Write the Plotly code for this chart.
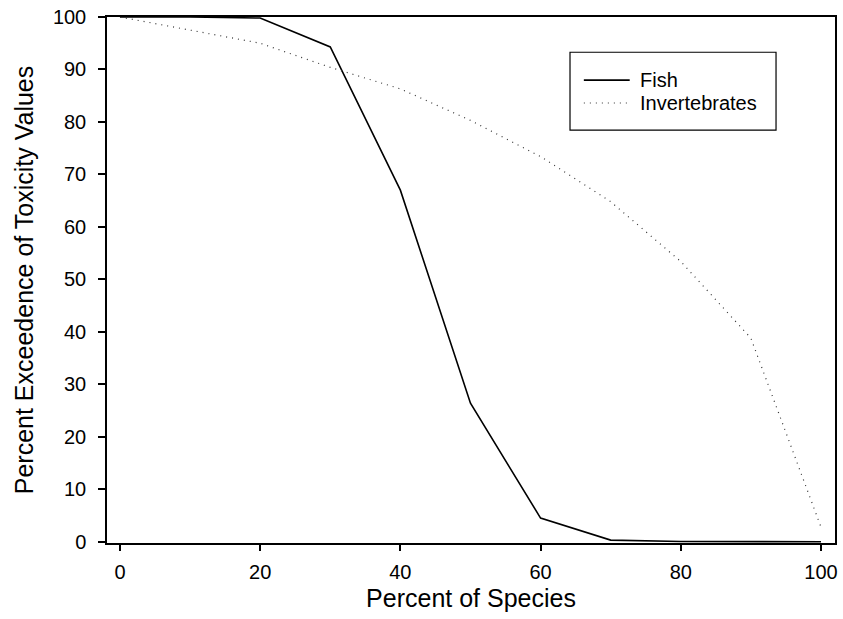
import plotly.graph_objects as go

# Percent of species (x) and percent exceedence of toxicity values (y)
pct_species = [0, 10, 20, 30, 40, 50, 60, 70, 80, 90, 100]
fish = [100, 100, 99.8, 94.3, 67.0, 26.4, 4.5, 0.3, 0.05, 0.0, 0.0]
invertebrates = [100, 97.5, 95.0, 90.4, 86.3, 80.3, 73.4, 64.8, 53.4, 38.8, 2.8]

x_ticks = [0, 20, 40, 60, 80, 100]
y_ticks = [0, 10, 20, 30, 40, 50, 60, 70, 80, 90, 100]

series_names = ["Fish", "Invertebrates"]
series_styles = [
    dict(color="black", width=1.6),
    dict(color="#333333", width=1.2, dash="1px,5px"),
]

FONT = "Liberation Sans, Arial, sans-serif"

fig = go.Figure()
for name, ys, style in zip(series_names, [fish, invertebrates], series_styles):
    fig.add_trace(go.Scatter(
        x=pct_species, y=ys, name=name, mode="lines", line=style,
        showlegend=False,
    ))

axis_common = dict(
    showgrid=False, zeroline=False, showline=True, linecolor="black",
    linewidth=1.5, mirror=True, ticks="outside", tickcolor="black",
    tickwidth=1.5, tickfont=dict(family=FONT, size=20, color="black"),
)

fig.update_xaxes(
    range=[-1.85, 102], tickvals=x_ticks, ticklen=6,
    title=dict(text="Percent of Species", font=dict(family=FONT, size=25, color="black"), standoff=8),
    ticklabelstandoff=4,
    **axis_common,
)
fig.update_yaxes(
    range=[-0.25, 100], tickvals=y_ticks, ticklen=7,
    title=dict(text="Percent Exceedence of Toxicity Values", font=dict(family=FONT, size=25, color="black"), standoff=12),
    ticklabelstandoff=8,
    **axis_common,
)

# Legend box drawn in paper coordinates, upper right of the plot area
box = dict(x0=0.636, x1=0.919, y0=0.785, y1=0.933)
shapes = [dict(type="rect", xref="paper", yref="paper", **box,
               line=dict(color="black", width=1.2), fillcolor="white", layer="below")]
annotations = []
entry_y = [0.880, 0.8365]
for name, style, yy in zip(series_names, series_styles, entry_y):
    shapes.append(dict(type="line", xref="paper", yref="paper",
                       x0=0.655, x1=0.718, y0=yy, y1=yy, line=style))
    annotations.append(dict(xref="paper", yref="paper", x=0.730, y=yy,
                            text=name, showarrow=False, xanchor="left", yanchor="middle",
                            font=dict(family=FONT, size=20, color="black")))

fig.update_layout(
    width=843, height=619,
    margin=dict(l=107, r=5, t=17, b=76),
    paper_bgcolor="white", plot_bgcolor="white",
    font=dict(family=FONT, color="black"),
    shapes=shapes, annotations=annotations,
)

fig.write_html("out.html")
